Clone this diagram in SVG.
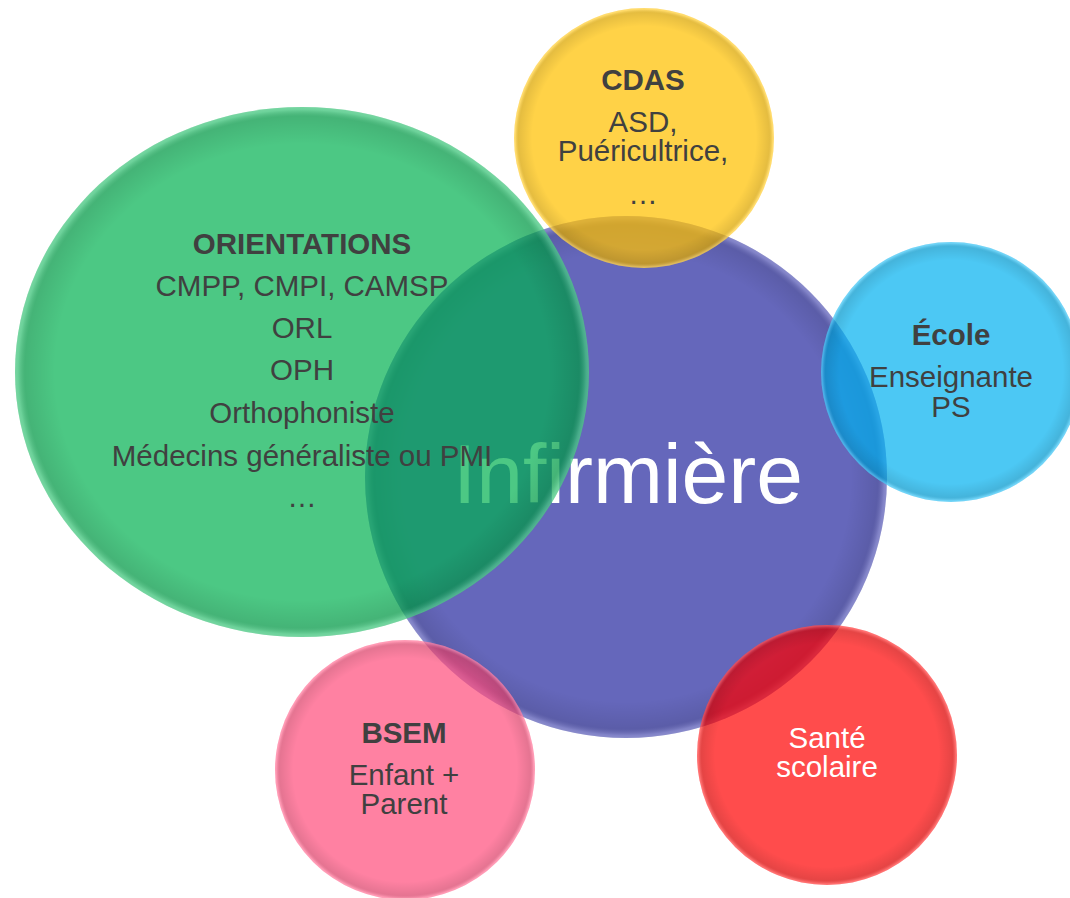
<svg xmlns="http://www.w3.org/2000/svg" width="1070" height="898" viewBox="0 0 1070 898">
  <defs>
    <!-- soft bevel: darker band just inside the edge, light outer rim -->
    <radialGradient id="rim" cx="0.5" cy="0.5" r="0.5">
      <stop offset="0" stop-color="#000" stop-opacity="0"/>
      <stop offset="0.86" stop-color="#000" stop-opacity="0"/>
      <stop offset="0.965" stop-color="#000" stop-opacity="0.10"/>
      <stop offset="0.99" stop-color="#fff" stop-opacity="0.18"/>
      <stop offset="1" stop-color="#fff" stop-opacity="0.25"/>
    </radialGradient>
    <style>
      text { font-family: "Liberation Sans", Arial, sans-serif; text-anchor: middle; }
      .h { font-size: 29.5px; font-weight: bold; fill: #404040; }
      .t { font-size: 29.5px; fill: #404040; }
      .w { font-size: 29.5px; fill: #ffffff; }
      .big { font-size: 84px; fill: #ffffff; }
      .rim { fill: url(#rim); }
    </style>
  </defs>

  <rect width="1070" height="898" fill="#ffffff"/>

  <!-- central node -->
  <g id="infirmiere">
    <circle cx="626" cy="477" r="261" fill="#6567BB"/>
    <circle class="rim" cx="626" cy="477" r="261"/>
    <text class="big" x="628" y="503">Infirmière</text>
  </g>

  <g id="orientations">
    <ellipse cx="302" cy="372" rx="287" ry="265" fill="#00B050" fill-opacity="0.7"/>
    <ellipse class="rim" cx="302" cy="372" rx="287" ry="265"/>
    <text class="h" x="302" y="254">ORIENTATIONS</text>
    <text class="t" x="302" y="296">CMPP, CMPI, CAMSP</text>
    <text class="t" x="302" y="338">ORL</text>
    <text class="t" x="302" y="380">OPH</text>
    <text class="t" x="302" y="423">Orthophoniste</text>
    <text class="t" x="302" y="466">Médecins généraliste ou PMI</text>
    <text class="t" x="302" y="507">…</text>
  </g>

  <g id="cdas">
    <circle cx="644" cy="138" r="130" fill="#FFC000" fill-opacity="0.72"/>
    <circle class="rim" cx="644" cy="138" r="130"/>
    <text class="h" x="643" y="90">CDAS</text>
    <text class="t" x="643" y="132">ASD,</text>
    <text class="t" x="643" y="161">Puéricultrice,</text>
    <text class="t" x="643" y="204">…</text>
  </g>

  <g id="ecole">
    <circle cx="951" cy="372" r="130" fill="#00B0F0" fill-opacity="0.7"/>
    <circle class="rim" cx="951" cy="372" r="130"/>
    <text class="h" x="951" y="345">École</text>
    <text class="t" x="951" y="387">Enseignante</text>
    <text class="t" x="951" y="417">PS</text>
  </g>

  <g id="bsem">
    <circle cx="405" cy="770" r="130" fill="#FF4C7A" fill-opacity="0.7"/>
    <circle class="rim" cx="405" cy="770" r="130"/>
    <text class="h" x="404" y="743">BSEM</text>
    <text class="t" x="404" y="785">Enfant +</text>
    <text class="t" x="404" y="814">Parent</text>
  </g>

  <g id="sante-scolaire">
    <circle cx="827" cy="755" r="130" fill="#FF0000" fill-opacity="0.7"/>
    <circle class="rim" cx="827" cy="755" r="130"/>
    <text class="w" x="827" y="748">Santé</text>
    <text class="w" x="827" y="777">scolaire</text>
  </g>

  <g id="connectors"/>
</svg>
